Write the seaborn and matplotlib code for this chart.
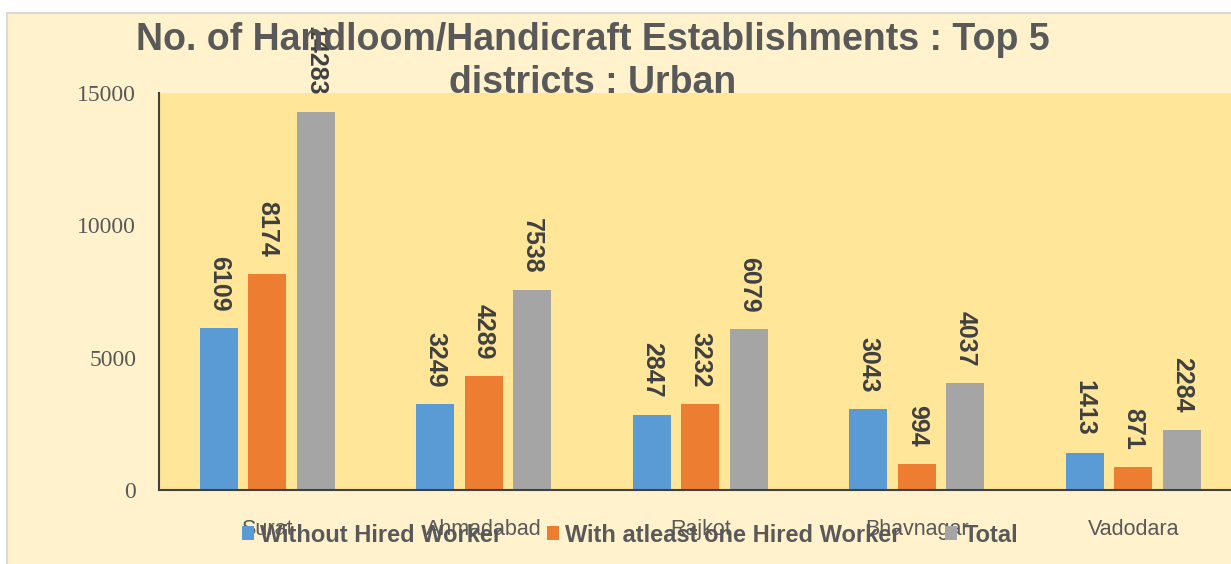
import pandas as pd
import matplotlib
matplotlib.use("Agg")
import matplotlib.pyplot as plt
from matplotlib.patches import Rectangle
import seaborn as sns

# chart data
districts = ["Surat", "Ahmadabad", "Rajkot", "Bhavnagar", "Vadodara"]
series = ["Without Hired Worker", "With atleast one Hired Worker", "Total"]
without_hired = [6109, 3249, 2847, 3043, 1413]
with_hired = [8174, 4289, 3232, 994, 871]
total = [14283, 7538, 6079, 4037, 2284]
y_ticks = [0, 5000, 10000, 15000]

COLORS = ["#5B9BD5", "#ED7D31", "#A5A5A5"]
TEXT_GREY = "#595959"

plt.rcParams["font.family"] = ["Liberation Sans", "DejaVu Sans"]

# long format table for seaborn
rows = []
for name, values in zip(series, [without_hired, with_hired, total]):
    for d, v in zip(districts, values):
        rows.append({"district": d, "type": name, "count": v})
df = pd.DataFrame(rows)

W, H = 1231, 564
fig = plt.figure(figsize=(W / 100, H / 100), dpi=100, facecolor="white")

# light yellow chart area with grey border (kept behind the axes)
fig.patches.append(Rectangle((7 / W, -0.01), 1.02, 1 - 13 / H + 0.01,
                             transform=fig.transFigure, facecolor="#FFF2CC",
                             edgecolor="#D9D9D9", lw=1.5, zorder=-10))

ax = fig.add_axes([159 / W, 74 / H, 1072 / W, 397 / H])
ax.set_facecolor("#FFE699")

sns.barplot(data=df, x="district", y="count", hue="type", order=districts,
            hue_order=series, palette=COLORS, saturation=1,
            width=0.672, gap=0.214, legend=False, ax=ax)

for cont in ax.containers:
    ax.bar_label(cont, padding=12, rotation=270, fontsize=18,
                 fontweight="bold", color="#404040")

ax.set_xlim(-0.5, -0.5 + 1072 / 216.5)
ax.set_ylim(0, 15000)
ax.set_yticks(y_ticks)
ax.set_xlabel("")
ax.set_ylabel("")

ax.tick_params(axis="y", length=0, pad=16.5, labelsize=17, labelcolor=TEXT_GREY)
ax.tick_params(axis="x", length=0, pad=21, labelsize=15.5, labelcolor=TEXT_GREY)
for lbl in ax.get_yticklabels():
    lbl.set_fontfamily("Liberation Serif")

for side in ["top", "right"]:
    ax.spines[side].set_visible(False)
for side in ["left", "bottom"]:
    ax.spines[side].set_color("#404040")
    ax.spines[side].set_linewidth(1.5)

# title
fig.text(593 / W, 1 - 50 / H, "No. of Handloom/Handicraft Establishments : Top 5",
         ha="center", va="baseline", fontsize=27, fontweight="bold", color=TEXT_GREY)
fig.text(593 / W, 1 - 93 / H, "districts : Urban",
         ha="center", va="baseline", fontsize=27, fontweight="bold", color=TEXT_GREY)

# legend across the bottom (overlaps the district names, as in the source)
fig.legend(ax.containers, series, loc="center",
           bbox_to_anchor=(630 / W, 1 - 535 / H), ncol=3, frameon=False,
           prop={"size": 17, "weight": "bold"}, labelcolor=TEXT_GREY,
           handlelength=0.5, handleheight=0.5, handletextpad=0.27,
           columnspacing=1.9, borderpad=0)

fig.savefig("out.png", dpi=100, facecolor=fig.get_facecolor())
